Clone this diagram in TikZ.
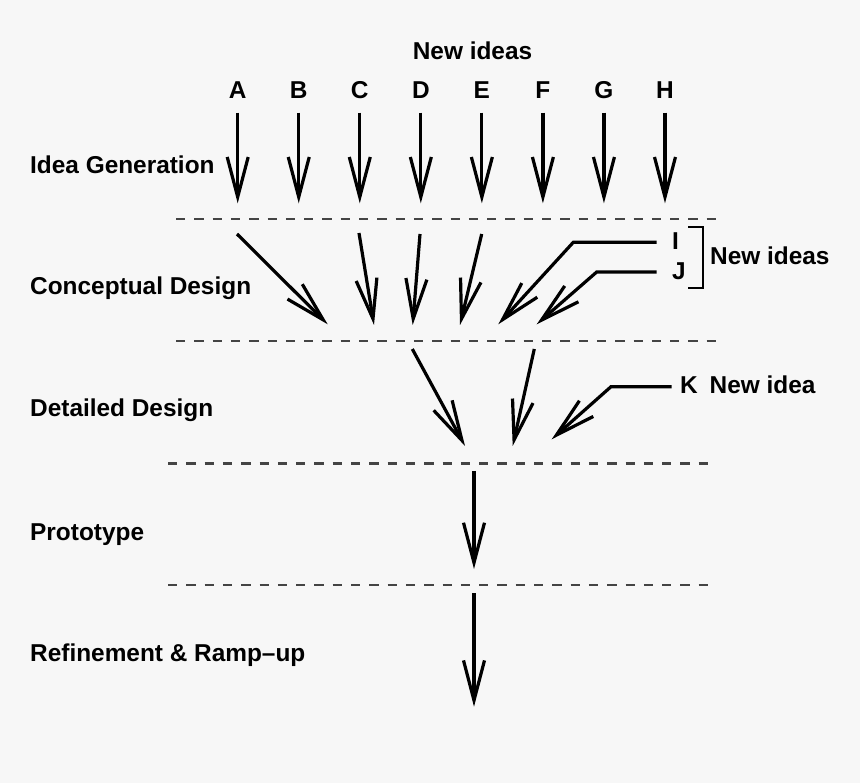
\documentclass[tikz,border=0pt]{standalone}
\usepackage{fontspec}
\setmainfont{Liberation Sans}
\usetikzlibrary{arrows.meta}
\definecolor{bgc}{HTML}{F7F7F7}
\definecolor{dashc}{HTML}{444444}
\tikzset{
  lbl/.style={font=\bfseries\fontsize{24.4}{28}\selectfont, inner sep=0pt, anchor=base west},
  letter/.style={font=\bfseries\fontsize{24.4}{28}\selectfont, inner sep=0pt, anchor=base},
  flow/.style={line width=3.2pt, -{Straight Barb[length=40pt,width=21pt]}, line join=miter},
  sep/.style={line width=2.5pt, draw=dashc, dash pattern=on 9.3pt off 9pt},
  brk/.style={line width=2pt}
}
\begin{document}
\begin{tikzpicture}[x=1pt,y=-1pt]
\fill[bgc] (0,0) rectangle (860,783);
\useasboundingbox (0,0) rectangle (860,783);

% stage labels
\node[lbl] (s1) at (30,173.3) {Idea Generation};
\node[lbl] (s2) at (30,295) {Conceptual Design};
\node[lbl] (s3) at (30,417) {Detailed Design};
\node[lbl] (s4) at (30,540) {Prototype};
\node[lbl] (s5) at (30,661.7) {Refinement \& Ramp–up};

% top title
\node[letter] (ni) at (472.5,59.3) {New ideas};

% separators
\coordinate (d1a) at (176,219);   \coordinate (d1b) at (717,219);
\coordinate (d2a) at (176,341);   \coordinate (d2b) at (717,341);
\coordinate (d3a) at (168,463.3); \coordinate (d3b) at (710,463.3);
\coordinate (d4a) at (168,585);   \coordinate (d4b) at (710,585);
\draw[sep] (d1a) -- (d1b);
\draw[sep] (d2a) -- (d2b);
\draw[sep] (d3a) -- (d3b);
\draw[sep] (d4a) -- (d4b);

% row 1: letters and arrows
\foreach \L [count=\i from 0] in {A,B,C,D,E,F,G,H}{
  \node[letter] (l\L) at ({237.7+61.04*\i},98.3) {\L};
  \coordinate (t\L) at ({237.7+61.04*\i},112.7);
  \coordinate (b\L) at ({237.7+61.04*\i},203.3);
  \draw[flow] (t\L) -- (b\L);
}

% row 2
\coordinate (a2s) at (237,234);   \coordinate (a2e) at (327.7,324.3);
\coordinate (c2s) at (359,233);   \coordinate (c2e) at (374,325);
\coordinate (d2s) at (420,234);   \coordinate (d2e) at (412.7,325);
\coordinate (e2s) at (481.7,234); \coordinate (e2e) at (460,325);
\draw[flow] (a2s) -- (a2e);
\draw[flow] (c2s) -- (c2e);
\draw[flow] (d2s) -- (d2e);
\draw[flow] (e2s) -- (e2e);

\node[lbl] (lI) at (672,249.3) {I};
\node[lbl] (lJ) at (672,280) {J};
\coordinate (i2s) at (656.7,242.3); \coordinate (i2c) at (573.3,242.3); \coordinate (i2e) at (498.3,324.3);
\coordinate (j2s) at (656.7,272);   \coordinate (j2c) at (596.7,272);   \coordinate (j2e) at (536.7,324.3);
\draw[flow] (i2s) -- (i2c) -- (i2e);
\draw[flow] (j2s) -- (j2c) -- (j2e);

\coordinate (br1) at (688,226.7); \coordinate (br2) at (703.3,226.7);
\coordinate (br3) at (703.3,287.7); \coordinate (br4) at (688,287.7);
\draw[brk] (br1) -- (br2) -- (br3) -- (br4);
\node[lbl] (nij) at (710,264.3) {New ideas};

% row 3
\coordinate (d3s) at (412.3,349); \coordinate (d3e) at (465,446);
\coordinate (f3s) at (534.3,349); \coordinate (f3e) at (512.7,446);
\draw[flow] (d3s) -- (d3e);
\draw[flow] (f3s) -- (f3e);
\node[lbl] (lK) at (680,393.3) {K};
\node[lbl] (nk) at (709.5,393.3) {New idea};
\coordinate (k3s) at (671.7,386.7); \coordinate (k3c) at (611,386.7); \coordinate (k3e) at (551.7,439.3);
\draw[flow] (k3s) -- (k3c) -- (k3e);

% rows 4 and 5
\coordinate (p4s) at (474,471);   \coordinate (p4e) at (474,569);
\coordinate (r5s) at (474,593.3); \coordinate (r5e) at (474,706.7);
\draw[flow] (p4s) -- (p4e);
\draw[flow] (r5s) -- (r5e);
\end{tikzpicture}
\end{document}
